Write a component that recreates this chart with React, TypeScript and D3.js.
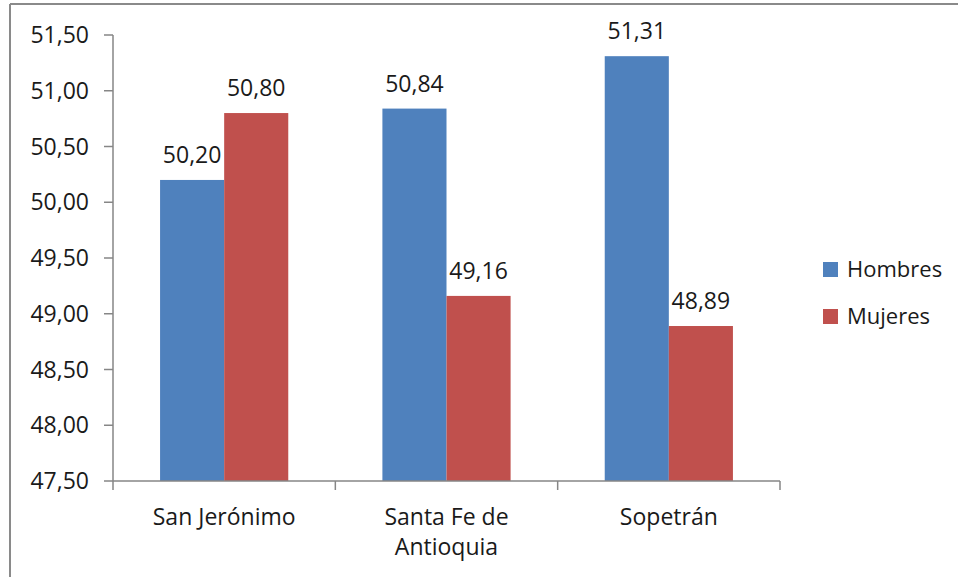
import React from "react";
import * as d3 from "d3";

const categories: string[][] = [["San Jerónimo"], ["Santa Fe de", "Antioquia"], ["Sopetrán"]];
const seriesNames = ["Hombres", "Mujeres"];
const hombres = [50.2, 50.84, 51.31];
const mujeres = [50.8, 49.16, 48.89];
const yTicks = [47.5, 48.0, 48.5, 49.0, 49.5, 50.0, 50.5, 51.0, 51.5];
const colors = ["#4F81BD", "#C0504D"];

const W = 958;
const H = 577;
const FONT = "'Open Sans', 'Liberation Sans', sans-serif";
const fmt = (v: number) => v.toFixed(2).replace(".", ",");

export default function App() {
  const left = 113;
  const right = 780;
  const top = 35;
  const bottom = 481;
  const x0 = d3
    .scaleBand<number>()
    .domain(categories.map((_, i) => i))
    .range([left, right])
    .paddingInner(0.4234)
    .paddingOuter(0.2117);
  const x1 = d3.scaleBand<number>().domain([0, 1]).range([0, x0.bandwidth()]);
  const y = d3.scaleLinear().domain([47.5, 51.5]).range([bottom, top]);
  const series = [hombres, mujeres];
  const step = x0.step();
  const catTicks = d3.range(categories.length + 1).map((i) => left + i * step);

  return (
    <svg width={W} height={H} style={{ position: "absolute", left: 0, top: 0, background: "#fff" }}>
      <rect x={0} y={0} width={W} height={H} fill="#fff" />
      {/* outer frame */}
      <line x1={10} x2={W} y1={4} y2={4} stroke="#8a8a8a" strokeWidth={2} />
      <line x1={10} x2={10} y1={4} y2={H} stroke="#8a8a8a" strokeWidth={2} />

      {/* bars */}
      {series.map((vals, s) =>
        vals.map((v, i) => {
          const bx = (x0(i) as number) + (x1(s) as number);
          return (
            <rect
              key={`b${s}-${i}`}
              x={bx}
              y={y(v)}
              width={x1.bandwidth()}
              height={bottom - y(v)}
              fill={colors[s]}
            />
          );
        })
      )}

      {/* value labels */}
      {series.map((vals, s) =>
        vals.map((v, i) => {
          const bx = (x0(i) as number) + (x1(s) as number) + x1.bandwidth() / 2;
          return (
            <text
              key={`l${s}-${i}`}
              x={bx}
              y={y(v) - 17}
              textAnchor="middle"
              fontFamily={FONT}
              fontSize={23}
              fill="#1a1a1a"
            >
              {fmt(v)}
            </text>
          );
        })
      )}

      {/* y axis */}
      <line x1={left} x2={left} y1={top} y2={bottom} stroke="#868686" strokeWidth={1.5} />
      {yTicks.map((t) => (
        <g key={`yt${t}`}>
          <line x1={left - 9} x2={left} y1={y(t)} y2={y(t)} stroke="#868686" strokeWidth={1.5} />
          <text
            x={89}
            y={y(t) + 8}
            textAnchor="end"
            fontFamily={FONT}
            fontSize={23}
            fill="#1a1a1a"
          >
            {fmt(t)}
          </text>
        </g>
      ))}

      {/* x axis */}
      <line x1={left} x2={right} y1={bottom} y2={bottom} stroke="#868686" strokeWidth={1.5} />
      {catTicks.map((t, i) => (
        <line key={`xt${i}`} x1={t} x2={t} y1={bottom} y2={bottom + 9} stroke="#868686" strokeWidth={1.5} />
      ))}
      {categories.map((lines, i) => (
        <text
          key={`c${i}`}
          x={(x0(i) as number) + x0.bandwidth() / 2}
          y={525}
          textAnchor="middle"
          fontFamily={FONT}
          fontSize={23}
          fill="#1a1a1a"
        >
          {lines.map((ln, k) => (
            <tspan key={k} x={(x0(i) as number) + x0.bandwidth() / 2} dy={k === 0 ? 0 : 30}>
              {ln}
            </tspan>
          ))}
        </text>
      ))}

      {/* legend */}
      {seriesNames.map((n, s) => (
        <g key={`lg${s}`} transform={`translate(823, ${262 + s * 47})`}>
          <rect x={0} y={0} width={15} height={15} fill={colors[s]} />
          <text x={24} y={15} fontFamily={FONT} fontSize={22} fill="#1a1a1a">
            {n}
          </text>
        </g>
      ))}
    </svg>
  );
}
